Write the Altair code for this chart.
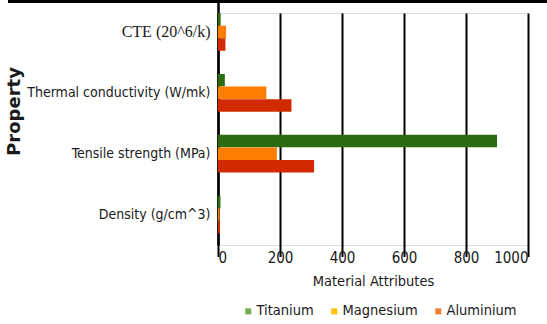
import altair as alt
import pandas as pd

# Material properties compared across three light metals
properties = ["CTE (20^6/k)", "Thermal conductivity (W/mk)", "Tensile strength (MPa)", "Density (g/cm^3)"]
materials = ["Titanium", "Magnesium", "Aluminium"]
titanium = [8.6, 22, 900, 8]
magnesium = [26, 156, 190, 5]
aluminium = [24, 237, 310, 6]

bar_colors = ["#2c6b12", "#ff7d00", "#d22a00"]
legend_colors = ["#70ad47", "#ffc000", "#ed7d31"]

rows = []
for i, p in enumerate(properties):
    for m, vals in zip(materials, [titanium, magnesium, aluminium]):
        rows.append({"Property": p, "Material": m, "Value": vals[i]})
df = pd.DataFrame(rows)

sans = "DejaVu Sans Condensed"

x_enc = alt.X(
    "Value:Q",
    scale=alt.Scale(domain=[0, 1000], nice=False),
    axis=alt.Axis(
        values=[0, 200, 400, 600, 800, 1000], format="d",
        title="Material Attributes",
        titleFont=sans, titleFontSize=14.5, titleFontWeight="normal", titleColor="#1a1a1a",
        titlePadding=9,
        labelFont=sans, labelFontSize=15, labelColor="#1a1a1a", labelPadding=5,
        grid=True, gridColor="#000000", gridWidth=2, gridOpacity=1,
        ticks=False, domain=False,
    ),
)

y_enc = alt.Y(
    "Property:N",
    sort=properties,
    scale=alt.Scale(range=[-11.5, 232], paddingInner=0.38, paddingOuter=0.19),
    axis=alt.Axis(
        title="Property",
        titleFont="DejaVu Sans", titleFontSize=18, titleFontWeight="bold", titleColor="#1a1a1a",
        titleAngle=270, titleX=-204, titleY=98, titleAlign="center", titleBaseline="middle",
        labelFont={"condition": {"test": "datum.value === 'CTE (20^6/k)'", "value": "Liberation Serif"},
                   "value": sans},
        labelFontSize={"condition": {"test": "datum.value === 'CTE (20^6/k)'", "value": 16},
                       "value": 14},
        labelColor="#1a1a1a", labelPadding=8, labelLimit=300,
        ticks=False, domain=True, domainColor="#000000", domainWidth=2.5,
        grid=False,
    ),
)

bars = alt.Chart(df).mark_bar(size=12.5).encode(
    x=x_enc,
    y=y_enc,
    yOffset=alt.YOffset("Material:N", sort=materials),
    color=alt.Color("Material:N", scale=alt.Scale(domain=materials, range=bar_colors), legend=None),
)

# invisible marks that carry the legend (lighter swatch palette)
legend_layer = alt.Chart(df).mark_square(opacity=0, size=1).encode(
    x="Value:Q",
    y=alt.Y("Property:N", sort=properties),
    color=alt.Color(
        "Material:N",
        scale=alt.Scale(domain=materials, range=legend_colors),
        legend=alt.Legend(
            title=None, orient="none", direction="horizontal",
            legendX=23, legendY=291,
            symbolType="square", symbolSize=36, symbolOpacity=1, symbolStrokeWidth=0,
            labelFont=sans, labelFontSize=14.5, labelColor="#1a1a1a",
            columnPadding=13, labelOffset=1,
        ),
    ),
)

top_rule = alt.Chart(df).mark_rule(color="#000000", strokeWidth=3).encode(
    x=alt.value(-210), x2=alt.value(329), y=alt.value(-11.5)
)

chart = alt.layer(bars, legend_layer, top_rule).resolve_scale(color="independent").properties(
    width=310, height=232,
    autosize=alt.AutoSizeParams(type="none"),
    padding={"left": 218, "top": 13, "right": 19, "bottom": 79},
).configure_view(stroke=None).configure(background="white")

chart.save("out.html", embed_options={"renderer": "svg", "actions": False})
